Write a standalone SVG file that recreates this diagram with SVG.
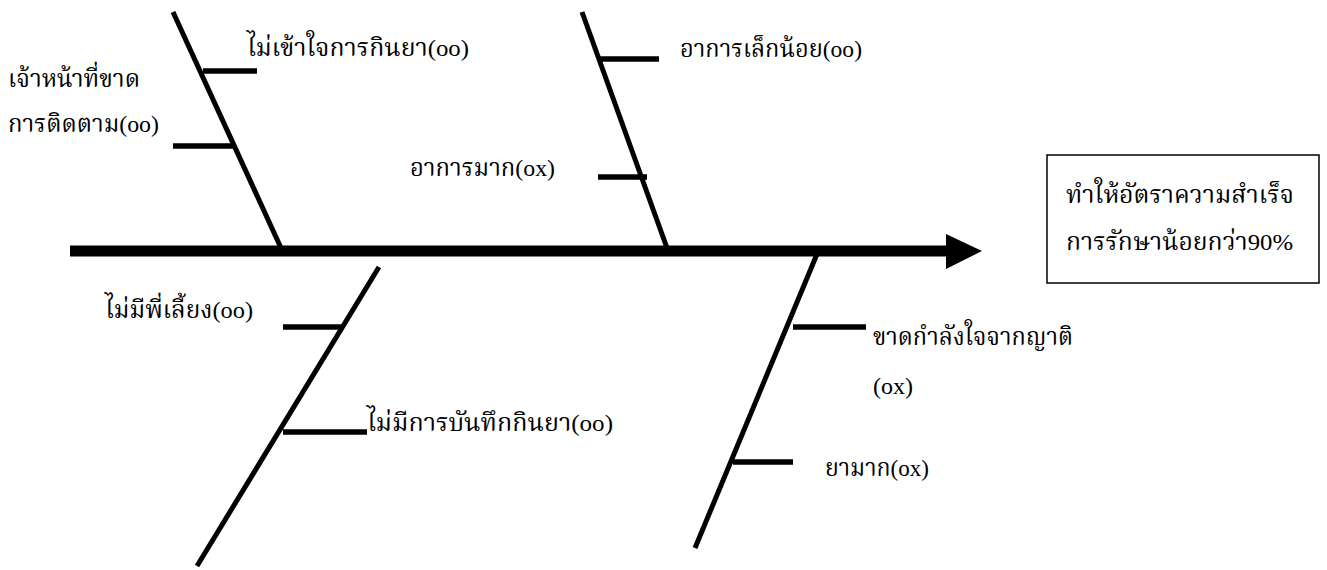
<svg xmlns="http://www.w3.org/2000/svg" width="1327" height="570" viewBox="0 0 1327 570">
<style>
.bone{stroke:#000;stroke-width:5;fill:none}
.rib{stroke:#000;stroke-width:5.5;fill:none}
.t{font-family:"Liberation Serif","Noto Serif Thai","Kinnari","Norasi","Laksaman","Noto Sans Thai",serif;font-size:24px;fill:#000}
</style>
<rect width="1327" height="570" fill="#fff"/>
<g id="connectors">
<line x1="70" y1="251" x2="948" y2="251" stroke="#000" stroke-width="11"/>
<polygon points="946,234 982,251 946,269" fill="#000"/>
<line class="bone" x1="173" y1="12" x2="281" y2="248"/>
<line class="bone" x1="582" y1="12" x2="667" y2="248"/>
<line class="bone" x1="379" y1="267" x2="197" y2="566"/>
<line class="bone" x1="817" y1="254" x2="695" y2="548"/>
<line class="rib" x1="203" y1="71" x2="257" y2="71"/>
<line class="rib" x1="173" y1="146" x2="233" y2="146"/>
<line class="rib" x1="600" y1="59" x2="659" y2="59"/>
<line class="rib" x1="598" y1="177" x2="647" y2="177"/>
<line class="rib" x1="283" y1="327" x2="344" y2="327"/>
<line class="rib" x1="283" y1="432" x2="367" y2="432"/>
<line class="rib" x1="793" y1="327" x2="866" y2="327"/>
<line class="rib" x1="733" y1="462" x2="793" y2="462"/>
</g>
<g id="n-staff"><text class="t" x="8" y="87" textLength="132" lengthAdjust="spacingAndGlyphs">เจ้าหน้าที่ขาด</text><text class="t" x="8" y="132" textLength="151" lengthAdjust="spacingAndGlyphs">การติดตาม(oo)</text></g>
<g id="n-understand"><text class="t" x="247" y="56" textLength="222" lengthAdjust="spacingAndGlyphs">ไม่เข้าใจการกินยา(oo)</text></g>
<g id="n-mild"><text class="t" x="680" y="57" textLength="182" lengthAdjust="spacingAndGlyphs">อาการเล็กน้อย(oo)</text></g>
<g id="n-severe"><text class="t" x="410" y="176" textLength="145" lengthAdjust="spacingAndGlyphs">อาการมาก(ox)</text></g>
<g id="n-mentor"><text class="t" x="105" y="318" textLength="148" lengthAdjust="spacingAndGlyphs">ไม่มีพี่เลี้ยง(oo)</text></g>
<g id="n-record"><text class="t" x="367" y="431" textLength="246" lengthAdjust="spacingAndGlyphs">ไม่มีการบันทึกกินยา(oo)</text></g>
<g id="n-family"><text class="t" x="873" y="345" textLength="200" lengthAdjust="spacingAndGlyphs">ขาดกำลังใจจากญาติ</text><text class="t" x="873" y="394" textLength="40" lengthAdjust="spacingAndGlyphs">(ox)</text></g>
<g id="n-drugs"><text class="t" x="825" y="476" textLength="104" lengthAdjust="spacingAndGlyphs">ยามาก(ox)</text></g>
<g id="n-result">
<rect x="1047" y="155" width="272" height="128" fill="#fff" stroke="#000" stroke-width="1.5"/>
<text class="t" x="1066" y="203" textLength="228" lengthAdjust="spacingAndGlyphs">ทำให้อัตราความสำเร็จ</text>
<text class="t" x="1066" y="250" textLength="227" lengthAdjust="spacingAndGlyphs">การรักษาน้อยกว่า90%</text>
</g>
</svg>
